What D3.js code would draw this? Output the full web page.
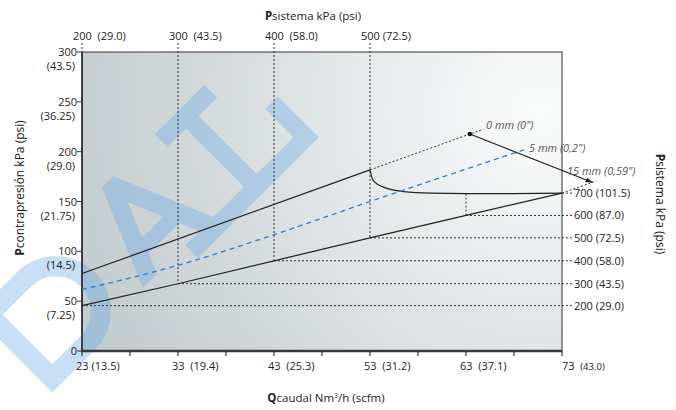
<!DOCTYPE html>
<html>
<head>
<meta charset="utf-8">
<title>Pcontrapresión vs Qcaudal</title>
<style>
  body { margin: 0; background: #fff; }
  svg { display: block; font-family: 'Open Sans', sans-serif; }
  text { fill: #222; white-space: pre; }
</style>
<script src="https://d3js.org/d3.v7.min.js"></script>
</head>
<body>
<div id="chart"></div>
<script>
// ******* Data *******
const flowTicks = [23, 33, 43, 53, 63, 73];
const flowScfm = ["13.5", "19.4", "25.3", "31.2", "37.1", "43.0"];
const backTicks = [0, 50, 100, 150, 200, 250, 300];
const backPsi = ["", "7.25", "14.5", "21.75", "29.0", "36.25", "43.5"];

// system pressure lines: where each one meets the lower operating line
const sysKpa = [200, 300, 400, 500, 600, 700];
const sysPsi = ["29.0", "43.5", "58.0", "72.5", "87.0", "101.5"];
const sysFlow = [23, 33, 43, 53, 63, 73];
const sysBack = [45.5, 67.5, 90.5, 113.5, 136, 158.4];

// upper line (0 mm) and its dotted continuation
const upperFlow = [23, 53];
const upperBack = [77.7, 181.7];
const zeroFlow = [53, 63.4, 64.8];
const zeroBack = [181.7, 217.7, 222.4];

// 15 mm curve after 53 Nm3/h
const curveFlow = [53, 53.3, 54.4, 56.5, 59.3, 63.1, 67.9, 73];
const curveBack = [181.7, 171.7, 164.4, 160, 158.4, 158, 158, 158.4];
const tailFlow = [73, 76.6];
const tailBack = [158.4, 170.7];

// 5 mm dashed line
const fiveFlow = [23, 33, 43, 53, 69.2];
const fiveBack = [61.7, 86, 116.7, 150, 202.4];

// arrow from 0 mm point towards 15 mm
const arrowFlow = [63.4, 76.2];
const arrowBack = [217.7, 169];

// ******* Setup *******
const width = 676, height = 410;

const x = d3.scaleLinear().domain([23, 73]).range([82, 562]);
const y = d3.scaleLinear().domain([0, 300]).range([351, 52]);

const svg = d3.select("#chart").append("svg")
    .attr("width", width)
    .attr("height", height);

const defs = svg.append("defs");
const grad = defs.append("radialGradient")
    .attr("id", "bg")
    .attr("gradientUnits", "userSpaceOnUse")
    .attr("cx", 540).attr("cy", 110).attr("r", 470);
grad.append("stop").attr("offset", "0%").attr("stop-color", "#fbfcfc");
grad.append("stop").attr("offset", "100%").attr("stop-color", "#c4cdd0");

defs.append("marker")
    .attr("id", "arrow")
    .attr("viewBox", "0 0 10 10")
    .attr("refX", 10).attr("refY", 5)
    .attr("markerWidth", 6).attr("markerHeight", 6)
    .attr("orient", "auto")
    .append("path")
    .attr("d", "M0,1.5 L10,5 L0,8.5 Z")
    .attr("fill", "#222");

// plot background
svg.append("rect")
    .attr("x", x(23)).attr("y", y(300))
    .attr("width", x(73) - x(23)).attr("height", y(0) - y(300))
    .attr("fill", "url(#bg)")
    .attr("stroke", "#333")
    .attr("stroke-width", 1);

// ******* Watermark (rotated letters) *******
const wm = svg.append("g")
    .attr("transform", "translate(179.6,109.6) rotate(-45)")
    .attr("opacity", 0.36)
    .attr("fill", "rgb(105,168,232)");
// D
wm.append("path")
    .attr("fill-rule", "evenodd")
    .attr("d", "M-290,0 H-230 A55,55 0 0 1 -230,110 H-290 Z M-270,20 H-230 A35,35 0 0 1 -230,90 H-270 Z");
// A
wm.append("path")
    .attr("fill-rule", "evenodd")
    .attr("d", "M-152,100 L-110,0 L-94,0 L-52,100 L-72,100 L-80.4,80 L-123.6,80 L-132,100 Z M-102,28.6 L-87.1,64 L-116.9,64 Z");
// T
wm.append("path").attr("d", "M-35,0 H35 V18 H9 V100 H-9 V18 H-35 Z");
// trailing bracket
wm.append("path").attr("d", "M61,60 H79 V118 H-92 V100 H61 Z");

// ******* Axes *******
// left axis line
svg.append("line")
    .attr("x1", x(23)).attr("x2", x(23))
    .attr("y1", y(300)).attr("y2", y(0))
    .attr("stroke", "#222").attr("stroke-width", 1.4);

// bottom axis (thicker)
svg.append("line")
    .attr("x1", x(23) - 1).attr("x2", x(73))
    .attr("y1", y(0)).attr("y2", y(0))
    .attr("stroke", "#3a3a3a").attr("stroke-width", 2.4);

svg.selectAll(".xtick")
    .data(d3.range(23, 74, 5))
    .enter().append("line")
    .attr("x1", d => x(d)).attr("x2", d => x(d))
    .attr("y1", y(0)).attr("y2", y(0) + 5)
    .attr("stroke", "#333").attr("stroke-width", 1.2);

const xl = svg.selectAll(".xlab")
    .data(flowTicks)
    .enter().append("text")
    .attr("x", (d, i) => x(d) + (i === flowTicks.length - 1 ? 0 : -6))
    .attr("y", 370)
    .attr("font-size", 11);
xl.append("tspan").text((d, i) => d + (i === 0 ? " " : "  "));
xl.append("tspan")
    .attr("font-size", (d, i) => i === flowTicks.length - 1 ? 9.5 : 11)
    .text((d, i) => "(" + flowScfm[i] + ")");

// left ticks and labels
svg.selectAll(".ytick")
    .data(backTicks)
    .enter().append("line")
    .attr("x1", x(23) - 5).attr("x2", x(23))
    .attr("y1", d => y(d)).attr("y2", d => y(d))
    .attr("stroke", "#333").attr("stroke-width", 1);

svg.selectAll(".ylab")
    .data(backTicks)
    .enter().append("text")
    .attr("x", x(23) - 5)
    .attr("y", d => y(d) + 4)
    .attr("text-anchor", "end")
    .attr("font-size", 11)
    .text(d => d);

svg.selectAll(".ylab2")
    .data(backTicks.slice(1))
    .enter().append("text")
    .attr("x", x(23) - 7)
    .attr("y", d => y(d) + 18)
    .attr("text-anchor", "end")
    .attr("font-size", 11)
    .text((d, i) => "(" + backPsi[i + 1] + ")");

// ******* System pressure guide lines *******
const dotted = "2,2";

// verticals from the top labels down to the lower line
svg.selectAll(".vguide")
    .data(sysFlow.slice(0, 4))
    .enter().append("line")
    .attr("x1", d => x(d)).attr("x2", d => x(d))
    .attr("y1", 43).attr("y2", (d, i) => y(sysBack[i]))
    .attr("stroke", "#333").attr("stroke-dasharray", dotted);

// short vertical at 600 kPa from the curve to the lower line
svg.append("line")
    .attr("x1", x(sysFlow[4])).attr("x2", x(sysFlow[4]))
    .attr("y1", y(158)).attr("y2", y(sysBack[4]))
    .attr("stroke", "#333").attr("stroke-dasharray", dotted);

// horizontals to the right labels
svg.selectAll(".hguide")
    .data(sysFlow)
    .enter().append("line")
    .attr("x1", d => x(d)).attr("x2", 573)
    .attr("y1", (d, i) => y(sysBack[i])).attr("y2", (d, i) => y(sysBack[i]))
    .attr("stroke", "#333").attr("stroke-dasharray", dotted);

svg.selectAll(".rlab")
    .data(sysKpa)
    .enter().append("text")
    .attr("x", 574)
    .attr("y", (d, i) => y(sysBack[i]) + 4)
    .attr("font-size", 11)
    .text((d, i) => d + " (" + sysPsi[i] + ")");

svg.selectAll(".tlab")
    .data(sysKpa.slice(0, 4))
    .enter().append("text")
    .attr("x", (d, i) => x(sysFlow[i]) - 9)
    .attr("y", 39.5)
    .attr("font-size", 11)
    .text((d, i) => d + (i === 3 ? " " : "  ") + "(" + sysPsi[i] + ")");

// ******* Lines *******
const line = d3.line().x(d => x(d[0])).y(d => y(d[1]));
const pts = (fx, fy) => fx.map((v, i) => [v, fy[i]]);

// lower operating line
svg.append("path")
    .attr("d", line(pts(sysFlow, sysBack)))
    .attr("fill", "none").attr("stroke", "#222").attr("stroke-width", 1.2);

// upper line
svg.append("path")
    .attr("d", line(pts(upperFlow, upperBack)))
    .attr("fill", "none").attr("stroke", "#222").attr("stroke-width", 1.2);

// dotted 0 mm continuation
svg.append("path")
    .attr("d", line(pts(zeroFlow, zeroBack)))
    .attr("fill", "none").attr("stroke", "#333")
    .attr("stroke-dasharray", dotted);

// 15 mm curve
svg.append("path")
    .attr("d", d3.line().x(d => x(d[0])).y(d => y(d[1]))
        .curve(d3.curveMonotoneX)(pts(curveFlow, curveBack)))
    .attr("fill", "none").attr("stroke", "#222").attr("stroke-width", 1.2);

svg.append("path")
    .attr("d", line(pts(tailFlow, tailBack)))
    .attr("fill", "none").attr("stroke", "#333")
    .attr("stroke-dasharray", dotted);

// 5 mm dashed blue
svg.append("path")
    .attr("d", d3.line().x(d => x(d[0])).y(d => y(d[1]))
        .curve(d3.curveMonotoneX)(pts(fiveFlow, fiveBack)))
    .attr("fill", "none").attr("stroke", "#2a7fd0")
    .attr("stroke-width", 1.3).attr("stroke-dasharray", "5,4");

// arrow
svg.append("path")
    .attr("d", line(pts(arrowFlow, arrowBack)))
    .attr("fill", "none").attr("stroke", "#222").attr("stroke-width", 1.2)
    .attr("marker-end", "url(#arrow)");

svg.append("circle")
    .attr("cx", x(zeroFlow[1])).attr("cy", y(zeroBack[1]))
    .attr("r", 2.3).attr("fill", "#111");

// stroke labels
const notes = [["0 mm (0\")", 486, 128.5], ["5 mm (0,2\")", 529, 151.5], ["15 mm (0,59\")", 567, 175]];
svg.selectAll(".note")
    .data(notes)
    .enter().append("text")
    .attr("x", d => d[1]).attr("y", d => d[2])
    .attr("font-size", 11)
    .attr("font-style", "italic")
    .style("fill", "#555")
    .text(d => d[0]);

// ******* Titles *******
const topTitle = svg.append("text")
    .attr("x", 313).attr("y", 19.5)
    .attr("text-anchor", "middle")
    .attr("font-size", 11.5);
topTitle.append("tspan").attr("font-weight", "bold").text("P");
topTitle.append("tspan").text("sistema kPa (psi)");

const bottomTitle = svg.append("text")
    .attr("x", 326).attr("y", 402)
    .attr("text-anchor", "middle")
    .attr("font-size", 11.5);
bottomTitle.append("tspan").attr("font-weight", "bold").text("Q");
bottomTitle.append("tspan").text("caudal Nm");
bottomTitle.append("tspan").attr("font-size", 7).attr("dy", -4).text("3");
bottomTitle.append("tspan").attr("dy", 4).text("/h (scfm)");

const leftTitle = svg.append("text")
    .attr("transform", "translate(24,188) rotate(-90)")
    .attr("text-anchor", "middle")
    .attr("font-size", 12);
leftTitle.append("tspan").attr("font-weight", "bold").text("P");
leftTitle.append("tspan").text("contrapresión kPa (psi)");

const rightTitle = svg.append("text")
    .attr("transform", "translate(656,204) rotate(90)")
    .attr("text-anchor", "middle")
    .attr("font-size", 12);
rightTitle.append("tspan").attr("font-weight", "bold").text("P");
rightTitle.append("tspan").text("sistema kPa (psi)");
</script>
</body>
</html>
